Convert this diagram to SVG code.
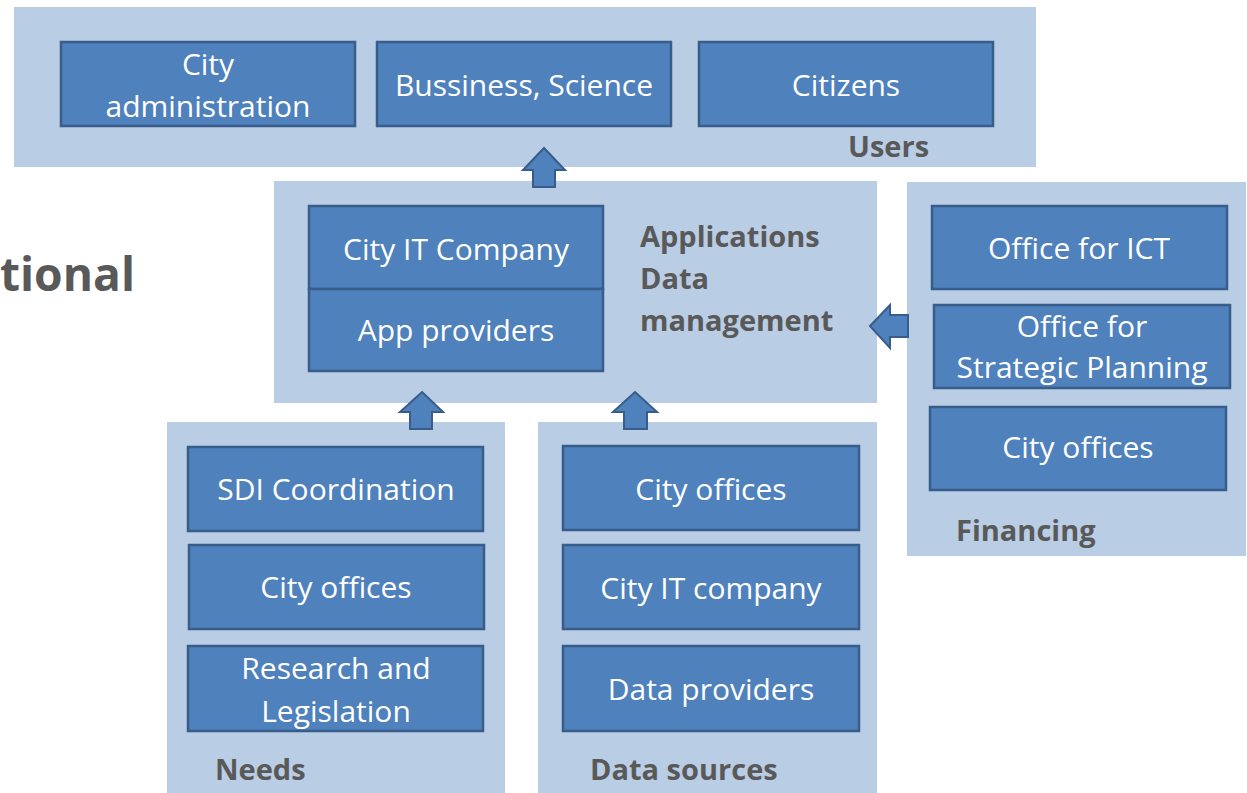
<svg xmlns="http://www.w3.org/2000/svg" width="1247" height="793" viewBox="0 0 1247 793">
<style>
.panel{fill:#B9CDE5;}
.box{fill:#4F81BD;stroke:#385D8A;stroke-width:2.5;}
.arrow{fill:#4F81BD;stroke:#385D8A;stroke-width:2;stroke-linejoin:miter;}
.t{font-family:"Open Sans","Liberation Sans",sans-serif;font-size:30px;fill:#FFFFFF;text-anchor:middle;}
.lbl{font-family:"Open Sans","Liberation Sans",sans-serif;font-size:29px;font-weight:bold;fill:#595959;}
</style>
<rect width="1247" height="793" fill="#FFFFFF"/>
<text x="0" y="291" class="lbl" style="font-size:46px" textLength="135" lengthAdjust="spacingAndGlyphs">tional</text>

<g id="users">
<rect class="panel" x="14" y="7" width="1022" height="160"/>
<text class="lbl" x="848" y="157">Users</text>
</g>
<g id="city-administration">
<rect class="box" x="61" y="42" width="294" height="84"/>
<text class="t" x="208" y="75">City</text>
<text class="t" x="208" y="117">administration</text>
</g>
<g id="business-science">
<rect class="box" x="377" y="42" width="294" height="84"/>
<text class="t" x="524" y="96">Bussiness, Science</text>
</g>
<g id="citizens">
<rect class="box" x="699" y="42" width="294" height="84"/>
<text class="t" x="846" y="96">Citizens</text>
</g>

<g id="applications">
<rect class="panel" x="274" y="181" width="603" height="222"/>
<text class="lbl" x="640" y="247">Applications</text>
<text class="lbl" x="640" y="289">Data</text>
<text class="lbl" x="640" y="331">management</text>
</g>
<g id="city-it-company">
<rect class="box" x="309" y="206" width="294" height="83"/>
<text class="t" x="456" y="260">City IT Company</text>
</g>
<g id="app-providers">
<rect class="box" x="309" y="289" width="294" height="82"/>
<text class="t" x="456" y="341">App providers</text>
</g>

<g id="financing">
<rect class="panel" x="907" y="182" width="339" height="374"/>
<text class="lbl" x="956" y="541">Financing</text>
</g>
<g id="office-ict">
<rect class="box" x="932" y="206" width="295" height="83"/>
<text class="t" x="1079" y="259">Office for ICT</text>
</g>
<g id="office-strategic">
<rect class="box" x="934" y="305" width="296" height="83"/>
<text class="t" x="1082" y="337">Office for</text>
<text class="t" x="1082" y="378">Strategic Planning</text>
</g>
<g id="fin-city-offices">
<rect class="box" x="930" y="407" width="296" height="83"/>
<text class="t" x="1078" y="458">City offices</text>
</g>

<g id="needs">
<rect class="panel" x="167" y="422" width="338" height="371"/>
<text class="lbl" x="215" y="780">Needs</text>
</g>
<g id="sdi-coordination">
<rect class="box" x="188" y="447" width="295" height="84"/>
<text class="t" x="336" y="500">SDI Coordination</text>
</g>
<g id="needs-city-offices">
<rect class="box" x="189" y="545" width="295" height="84"/>
<text class="t" x="336" y="598">City offices</text>
</g>
<g id="research-legislation">
<rect class="box" x="188" y="646" width="295" height="85"/>
<text class="t" x="336" y="679">Research and</text>
<text class="t" x="336" y="722">Legislation</text>
</g>

<g id="data-sources">
<rect class="panel" x="538" y="422" width="339" height="371"/>
<text class="lbl" x="590" y="780">Data sources</text>
</g>
<g id="ds-city-offices">
<rect class="box" x="563" y="446" width="296" height="84"/>
<text class="t" x="711" y="500">City offices</text>
</g>
<g id="ds-city-it-company">
<rect class="box" x="563" y="545" width="296" height="84"/>
<text class="t" x="711" y="599">City IT company</text>
</g>
<g id="data-providers">
<rect class="box" x="563" y="646" width="296" height="85"/>
<text class="t" x="711" y="700">Data providers</text>
</g>

<g id="connectors">
<polygon class="arrow" points="544,148 565,170 555,170 555,187 533,187 533,170 523,170"/>
<polygon class="arrow" points="422,392 443,412 432,412 432,429 410,429 410,412 400,412"/>
<polygon class="arrow" points="635,392 657,412 647,412 647,429 624,429 624,412 613,412"/>
<polygon class="arrow" points="870,326 890,305 890,315 908,315 908,337 890,337 890,348"/>
</g>
</svg>
